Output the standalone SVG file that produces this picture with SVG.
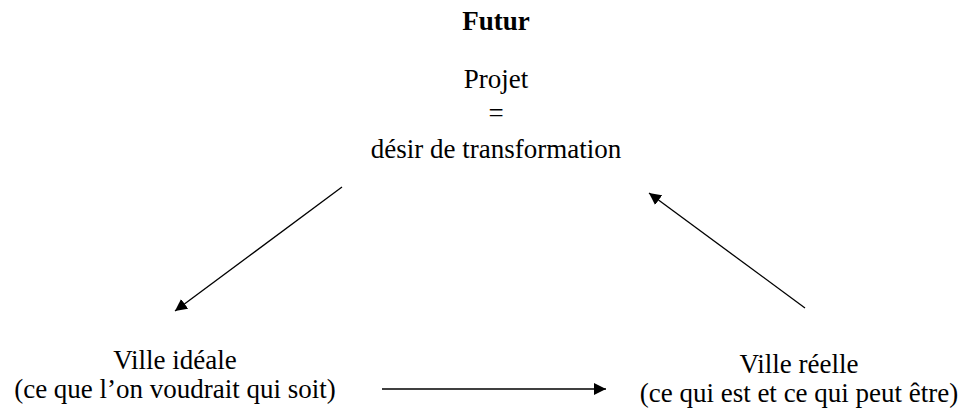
<svg xmlns="http://www.w3.org/2000/svg" width="967" height="414" viewBox="0 0 967 414">
<defs>
<style>
text{font-family:"Liberation Serif","Times New Roman",serif;font-size:27px;fill:#000;text-anchor:middle}
.b{font-weight:bold}
.c{stroke:#000;stroke-width:1.3;fill:none}
</style>
<marker id="ah" viewBox="0 0 10 10" refX="10" refY="5" markerWidth="12" markerHeight="12" markerUnits="userSpaceOnUse" orient="auto">
<path d="M0,0 L10,5 L0,10 z" fill="#000"/>
</marker>
</defs>
<rect width="967" height="414" fill="#fff"/>
<g id="futur">
<text class="b" x="496" y="30">Futur</text>
<text x="496" y="88">Projet</text>
<text x="496" y="122">=</text>
<text x="496" y="158">désir de transformation</text>
</g>
<g id="ville-ideale">
<text x="175" y="369">Ville idéale</text>
<text x="175" y="398">(ce que l’on voudrait qui soit)</text>
</g>
<g id="ville-reelle">
<text x="799" y="373">Ville réelle</text>
<text x="799" y="402">(ce qui est et ce qui peut être)</text>
</g>
<g id="connectors">
<line class="c" x1="342" y1="187" x2="175" y2="311" marker-end="url(#ah)"/>
<line class="c" x1="805" y1="308" x2="649" y2="193" marker-end="url(#ah)"/>
<line class="c" x1="382" y1="389" x2="606" y2="389" marker-end="url(#ah)"/>
</g>
</svg>
